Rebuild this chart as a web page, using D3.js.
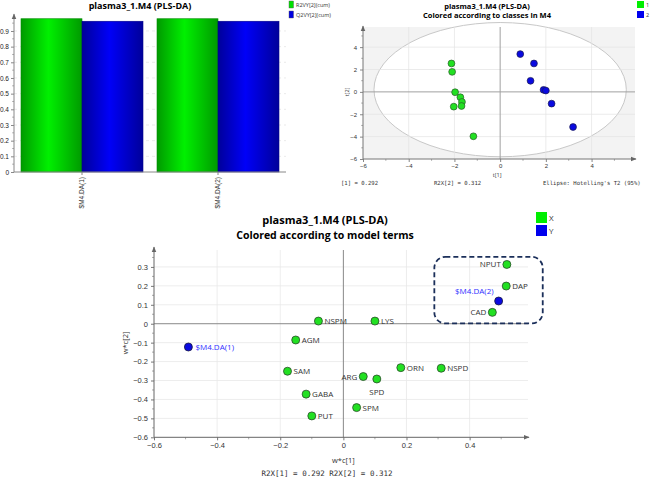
<!DOCTYPE html>
<html><head><meta charset="utf-8">
<script src="https://cdn.jsdelivr.net/npm/d3@7"></script>
<style>
body{margin:0;background:#fff;}
svg{display:block;font-family:"Open Sans","Liberation Sans",sans-serif;}
.mono{font-family:"DejaVu Sans Mono","Liberation Mono",monospace;}
</style></head><body>
<svg id="c" width="650" height="483"></svg>
<script>
// ---------- data ----------
const barCategories = ["$M4.DA(1)", "$M4.DA(2)"];
const barSeries = ["R2VY[2](cum)", "Q2VY[2](cum)"];
const r2vy = [0.978, 0.978];
const q2vy = [0.962, 0.962];
const barTicks = [0,0.1,0.2,0.3,0.4,0.5,0.6,0.7,0.8,0.9];

const scoreClass1X = [-2.13, -2.10, -1.97, -1.74, -1.67, -1.69, -2.03, -1.17];
const scoreClass1Y = [2.54, 1.79, -0.03, -0.48, -0.90, -1.26, -1.32, -3.97];
const scoreClass2X = [0.88, 1.48, 1.33, 1.90, 2.00, 2.25, 3.19];
const scoreClass2Y = [3.38, 2.54, 0.99, 0.18, 0.12, -1.05, -3.14];
const scoreTicks = [-6,-4,-2,0,2,4];
const ellipseA = 5.52, ellipseB = 6.0;

const loadNamesX = ["NSPM","LYS","AGM","SAM","ARG","SPD","ORN","NSPD","GABA","SPM","PUT","NPUT","DAP","CAD"];
const loadX =      [-0.079, 0.100, -0.151, -0.177, 0.063, 0.106, 0.182, 0.310, -0.118, 0.042, -0.100, 0.518, 0.516, 0.472];
const loadY =      [0.014, 0.014, -0.086, -0.251, -0.279, -0.292, -0.232, -0.235, -0.372, -0.443, -0.487, 0.313, 0.199, 0.060];
const loadNamesY = ["$M4.DA(1)", "$M4.DA(2)"];
const loadYX = [-0.491, 0.492];
const loadYY = [-0.123, 0.120];
const loadTicksX = [-0.6,-0.4,-0.2,0,0.2,0.4];
const loadTicksY = [-0.6,-0.5,-0.4,-0.3,-0.2,-0.1,0,0.1,0.2,0.3];

// ---------- setup ----------
const svg = d3.select("#c");
const defs = svg.append("defs");
function grad(id, dark, bright){
  const g = defs.append("linearGradient").attr("id", id).attr("x1","0%").attr("x2","100%");
  g.append("stop").attr("offset","0%").attr("stop-color",dark);
  g.append("stop").attr("offset","45%").attr("stop-color",bright);
  g.append("stop").attr("offset","100%").attr("stop-color",dark);
}
grad("gGreen", "#009a00", "#00f000");
grad("gBlue", "#00009a", "#0000f8");
const marker = defs.append("marker").attr("id","arr").attr("viewBox","0 0 10 10").attr("refX",9).attr("refY",5)
  .attr("markerWidth",6).attr("markerHeight",8).attr("orient","auto-start-reverse");
marker.append("path").attr("d","M0,1L10,5L0,9Z").attr("fill","#666");

const fmt = d => (Math.abs(d)<1e-9 ? "0" : d3.format("")(+d.toFixed(2)));

function minorTicks(g, scale, vals, orient, len){
  vals.forEach(v=>{
    const p = scale(v);
    if(orient==="x") g.append("line").attr("x1",p).attr("x2",p).attr("y1",0).attr("y2",len).attr("stroke","#888").attr("stroke-width",0.7);
    else g.append("line").attr("y1",p).attr("y2",p).attr("x1",0).attr("x2",-len).attr("stroke","#888").attr("stroke-width",0.7);
  });
}

// ============ PANEL 1: bar chart ============
{
  const x0 = d3.scaleBand().domain(barCategories).range([14, 286]).paddingInner(0.103).paddingOuter(0.0515);
  const x1 = d3.scaleBand().domain(barSeries).range([0, x0.bandwidth()]);
  const y = d3.scaleLinear().domain([0, 1]).range([172, 15.3]);
  const vals = [r2vy, q2vy];
  const fills = ["url(#gGreen)", "url(#gBlue)"];
  svg.append("g").selectAll("line").data(barTicks.slice(1)).join("line")
    .attr("x1",14).attr("x2",286).attr("y1",d=>y(d)).attr("y2",d=>y(d))
    .attr("stroke","#e4e4e4").attr("stroke-dasharray","3,3").attr("stroke-width",0.8);
  barSeries.forEach((s, si)=>{
    svg.append("g").selectAll("rect").data(barCategories).join("rect")
      .attr("x", (c)=>x0(c)+x1(s)).attr("width", x1.bandwidth())
      .attr("y", (c,i)=>y(vals[si][i])).attr("height",(c,i)=>y(0)-y(vals[si][i]))
      .attr("fill", fills[si]).attr("stroke", si===0?"#008a00":"#00008a").attr("stroke-width",0.6);
  });
  const ya = svg.append("g").attr("transform","translate(14,0)")
    .call(d3.axisLeft(y).tickValues(barTicks).tickFormat(fmt).tickSize(3));
  ya.select(".domain").remove();
  ya.selectAll("text").attr("font-size",6.5).attr("fill","#222").attr("dx",1);
  ya.selectAll("line").attr("stroke","#888");
  svg.append("line").attr("x1",14).attr("x2",14).attr("y1",172).attr("y2",14).attr("stroke","#888").attr("marker-end","url(#arr)");
  const mt = svg.append("g").attr("transform","translate(14,0)");
  minorTicks(mt, y, d3.range(0.05, 0.96, 0.1), "y", 1.8);
  svg.append("line").attr("x1",14).attr("x2",286).attr("y1",172).attr("y2",172).attr("stroke","#888");
  const xa = svg.append("g").attr("transform","translate(0,172)")
    .call(d3.axisBottom(x0).tickSize(3));
  xa.select(".domain").remove();
  xa.selectAll("line").attr("stroke","#888");
  xa.selectAll("text").attr("font-size",6.5).attr("fill","#333")
    .attr("transform","rotate(-90)").attr("text-anchor","end").attr("x",-5).attr("y",0).attr("dy","0.32em");
  svg.append("text").attr("x",140).attr("y",9).attr("text-anchor","middle")
    .attr("font-size",9).attr("font-weight","bold").text("plasma3_1.M4 (PLS-DA)");
  const leg = svg.append("g");
  barSeries.forEach((s,i)=>{
    leg.append("rect").attr("x",289).attr("y",1+i*10).attr("width",4.5).attr("height",7)
      .attr("fill", i===0?"#00e000":"#0000e0").attr("stroke","#555").attr("stroke-width",0.4);
    leg.append("text").attr("x",296).attr("y",7+i*10).attr("font-size",5.5).attr("fill","#333").text(s);
  });
}

// ============ PANEL 2: score plot ============
{
  const x = d3.scaleLinear().domain([-6, 5.9]).range([363, 635]);
  const y = d3.scaleLinear().domain([-6, 5.8]).range([159, 27]);
  svg.append("rect").attr("x",363).attr("y",27).attr("width",272).attr("height",132).attr("fill","#f3f3f3");
  const ell = svg.append("ellipse").attr("cx",x(0)).attr("cy",y(0.2))
    .attr("rx",x(ellipseA)-x(0)).attr("ry",y(0)-y(ellipseB))
    .attr("fill","#fff").attr("stroke","#c8c8c8").attr("stroke-width",1);
  defs.append("clipPath").attr("id","clipS").append("rect").attr("x",363).attr("y",20).attr("width",275).attr("height",139);
  ell.attr("clip-path","url(#clipS)");
  const g = svg.append("g");
  scoreTicks.filter(d=>d!==0 && d!==-6).forEach(d=>{
    g.append("line").attr("x1",x(d)).attr("x2",x(d)).attr("y1",27).attr("y2",159).attr("stroke","#e2e2e2").attr("stroke-width",0.7);
    g.append("line").attr("y1",y(d)).attr("y2",y(d)).attr("x1",363).attr("x2",635).attr("stroke","#e2e2e2").attr("stroke-width",0.7);
  });
  g.append("line").attr("x1",x(0)).attr("x2",x(0)).attr("y1",27).attr("y2",159).attr("stroke","#a0a0a0").attr("stroke-width",1);
  g.append("line").attr("y1",y(0)).attr("y2",y(0)).attr("x1",363).attr("x2",635).attr("stroke","#a0a0a0").attr("stroke-width",1);
  const xa = svg.append("g").attr("transform","translate(0,159)").call(d3.axisBottom(x).tickValues(scoreTicks).tickSize(3));
  xa.select(".domain").remove();
  xa.selectAll("text").attr("font-size",6).attr("fill","#333").attr("dy","0.5em");
  xa.selectAll("line").attr("stroke","#888");
  const ya = svg.append("g").attr("transform","translate(363,0)").call(d3.axisLeft(y).tickValues(scoreTicks).tickSize(3));
  ya.select(".domain").remove();
  ya.selectAll("text").attr("font-size",6).attr("fill","#333");
  ya.selectAll("line").attr("stroke","#888");
  const mtx = svg.append("g").attr("transform","translate(0,159)");
  minorTicks(mtx, x, d3.range(-5, 5.5, 1).filter(v=>v%2!==0), "x", 1.8);
  const mty = svg.append("g").attr("transform","translate(363,0)");
  minorTicks(mty, y, d3.range(-5, 5.5, 1).filter(v=>v%2!==0), "y", 1.8);
  svg.append("line").attr("x1",363).attr("x2",363).attr("y1",159).attr("y2",26).attr("stroke","#777").attr("marker-end","url(#arr)");
  svg.append("line").attr("x1",363).attr("x2",636).attr("y1",159).attr("y2",159).attr("stroke","#777").attr("marker-end","url(#arr)");
  const p1 = scoreClass1X.map((v,i)=>[v, scoreClass1Y[i]]);
  const p2 = scoreClass2X.map((v,i)=>[v, scoreClass2Y[i]]);
  svg.append("g").selectAll("circle").data(p1).join("circle").attr("cx",d=>x(d[0])).attr("cy",d=>y(d[1])).attr("r",3.4)
    .attr("fill","#22e022").attr("stroke","#2a5a2a").attr("stroke-width",0.7);
  svg.append("g").selectAll("circle").data(p2).join("circle").attr("cx",d=>x(d[0])).attr("cy",d=>y(d[1])).attr("r",3.4)
    .attr("fill","#0a0ae0").attr("stroke","#1a1a50").attr("stroke-width",0.7);
  svg.append("text").attr("x",487).attr("y",9).attr("text-anchor","middle").attr("font-size",7.5).attr("font-weight","bold").text("plasma3_1.M4 (PLS-DA)");
  svg.append("text").attr("x",487).attr("y",18).attr("text-anchor","middle").attr("font-size",7.5).attr("font-weight","bold").text("Colored according to classes in M4");
  svg.append("text").attr("x",x(0)-3).attr("y",177).attr("text-anchor","middle").attr("font-size",5.5).attr("fill","#333").text("t[1]");
  svg.append("text").attr("transform","translate(349,92) rotate(-90)").attr("text-anchor","middle").attr("font-size",5.5).attr("fill","#333").text("t[2]");
  svg.append("text").attr("class","mono").attr("x",341).attr("y",185).attr("font-size",5.6).attr("fill","#333").text("[1] = 0.292");
  svg.append("text").attr("class","mono").attr("x",434).attr("y",185).attr("font-size",5.6).attr("fill","#333").text("R2X[2] = 0.312");
  svg.append("text").attr("class","mono").attr("x",543).attr("y",185).attr("font-size",5.6).attr("fill","#333").text("Ellipse: Hotelling's T2 (95%)");
  ["1","2"].forEach((s,i)=>{
    svg.append("rect").attr("x",637).attr("y",1+i*10).attr("width",7).attr("height",7).attr("fill",i===0?"#00ee00":"#0000ee");
    svg.append("text").attr("x",646).attr("y",7+i*10).attr("font-size",5.5).attr("fill","#333").text(s);
  });
}

// ============ PANEL 3: loading plot ============
{
  const x = d3.scaleLinear().domain([-0.6, 0.585]).range([154, 528]);
  const y = d3.scaleLinear().domain([-0.6, 0.4]).range([437.3, 248]);
  const g = svg.append("g");
  loadTicksX.filter(d=>d!==0 && d!==-0.6).forEach(d=>{
    g.append("line").attr("x1",x(d)).attr("x2",x(d)).attr("y1",250).attr("y2",437.3).attr("stroke","#e8e8e8").attr("stroke-width",0.8);
  });
  loadTicksY.filter(d=>d!==0 && d!==-0.6).forEach(d=>{
    g.append("line").attr("y1",y(d)).attr("y2",y(d)).attr("x1",154).attr("x2",528).attr("stroke","#e8e8e8").attr("stroke-width",0.8);
  });
  g.append("line").attr("x1",x(0)).attr("x2",x(0)).attr("y1",250).attr("y2",437.3).attr("stroke","#888").attr("stroke-width",1);
  g.append("line").attr("y1",y(0)).attr("y2",y(0)).attr("x1",154).attr("x2",528).attr("stroke","#888").attr("stroke-width",1);
  const xa = svg.append("g").attr("transform","translate(0,437.3)").call(d3.axisBottom(x).tickValues(loadTicksX).tickFormat(fmt).tickSize(3));
  xa.select(".domain").remove();
  xa.selectAll("text").attr("font-size",7.5).attr("fill","#333").attr("dy","0.6em");
  xa.selectAll("line").attr("stroke","#777");
  const ya = svg.append("g").attr("transform","translate(154,0)").call(d3.axisLeft(y).tickValues(loadTicksY).tickFormat(fmt).tickSize(3));
  ya.select(".domain").remove();
  ya.selectAll("text").attr("font-size",7.5).attr("fill","#333");
  ya.selectAll("line").attr("stroke","#777");
  const mtx = svg.append("g").attr("transform","translate(0,437.3)");
  minorTicks(mtx, x, [-0.5,-0.3,-0.1,0.1,0.3,0.5], "x", 2);
  const mty = svg.append("g").attr("transform","translate(154,0)");
  minorTicks(mty, y, d3.range(-0.55, 0.36, 0.1), "y", 2);
  svg.append("line").attr("x1",154).attr("x2",154).attr("y1",437.3).attr("y2",247).attr("stroke","#666").attr("marker-end","url(#arr)");
  svg.append("line").attr("x1",154).attr("x2",529).attr("y1",437.3).attr("y2",437.3).attr("stroke","#666").attr("marker-end","url(#arr)");
  const boxNames = ["NPUT","DAP","CAD"];
  const bx = loadNamesX.map((n,i)=>boxNames.includes(n)?loadX[i]:null).filter(v=>v!==null);
  const by = loadNamesX.map((n,i)=>boxNames.includes(n)?loadY[i]:null).filter(v=>v!==null);
  svg.append("rect").attr("x",x(d3.min(bx))-58).attr("y",y(d3.max(by))-7.6)
    .attr("width",108.4).attr("height",66.6).attr("rx",11).attr("ry",11)
    .attr("fill","none").attr("stroke","#1b2f5a").attr("stroke-width",1.8).attr("stroke-dasharray","5,3");
  const pts = loadNamesX.map((n,i)=>({n, x:loadX[i], y:loadY[i]}));
  svg.append("g").selectAll("circle").data(pts).join("circle").attr("cx",d=>x(d.x)).attr("cy",d=>y(d.y)).attr("r",4)
    .attr("fill","#22e022").attr("stroke","#2a4a2a").attr("stroke-width",0.8);
  const ypts = loadNamesY.map((n,i)=>({n, x:loadYX[i], y:loadYY[i]}));
  svg.append("g").selectAll("circle").data(ypts).join("circle").attr("cx",d=>x(d.x)).attr("cy",d=>y(d.y)).attr("r",4)
    .attr("fill","#0a0ae0").attr("stroke","#1a1a40").attr("stroke-width",0.8);
  const pos = {NPUT:"left", ARG:"left", CAD:"left", SPD:"below"};
  svg.append("g").selectAll("text").data(pts).join("text")
    .attr("x", d=> pos[d.n]==="left" ? x(d.x)-6 : pos[d.n]==="below" ? x(d.x) : x(d.x)+6)
    .attr("y", d=> pos[d.n]==="below" ? y(d.y)+16 : y(d.y)+3)
    .attr("text-anchor", d=> pos[d.n]==="left" ? "end" : pos[d.n]==="below" ? "middle" : "start")
    .attr("font-size",8).attr("fill","#333").text(d=>d.n);
  svg.append("text").attr("x",x(loadYX[0])+7).attr("y",y(loadYY[0])+3).attr("font-size",8).attr("fill","#3030ff").text(loadNamesY[0]);
  svg.append("text").attr("x",x(loadYX[1])-5).attr("y",y(loadYY[1])-7).attr("text-anchor","end").attr("font-size",8).attr("fill","#3030ff").text(loadNamesY[1]);
  svg.append("text").attr("x",325).attr("y",224).attr("text-anchor","middle").attr("font-size",11).attr("font-weight","bold").text("plasma3_1.M4 (PLS-DA)");
  svg.append("text").attr("x",325).attr("y",239).attr("text-anchor","middle").attr("font-size",10.5).attr("font-weight","bold").text("Colored according to model terms");
  svg.append("text").attr("x",x(0)).attr("y",463).attr("text-anchor","middle").attr("font-size",7.5).attr("fill","#333").text("w*c[1]");
  svg.append("text").attr("transform","translate(128,343) rotate(-90)").attr("text-anchor","middle").attr("font-size",7.5).attr("fill","#333").text("w*c[2]");
  svg.append("text").attr("class","mono").attr("x",327).attr("y",476).attr("text-anchor","middle").attr("font-size",7.5).attr("fill","#333").text("R2X[1] = 0.292 R2X[2] = 0.312");
  ["X","Y"].forEach((s,i)=>{
    svg.append("rect").attr("x",536).attr("y",212+i*13).attr("width",11).attr("height",11).attr("fill",i===0?"#00ee00":"#0000ee");
    svg.append("text").attr("x",549).attr("y",221+i*13).attr("font-size",8).attr("fill","#333").text(s);
  });
}
</script></body></html>
